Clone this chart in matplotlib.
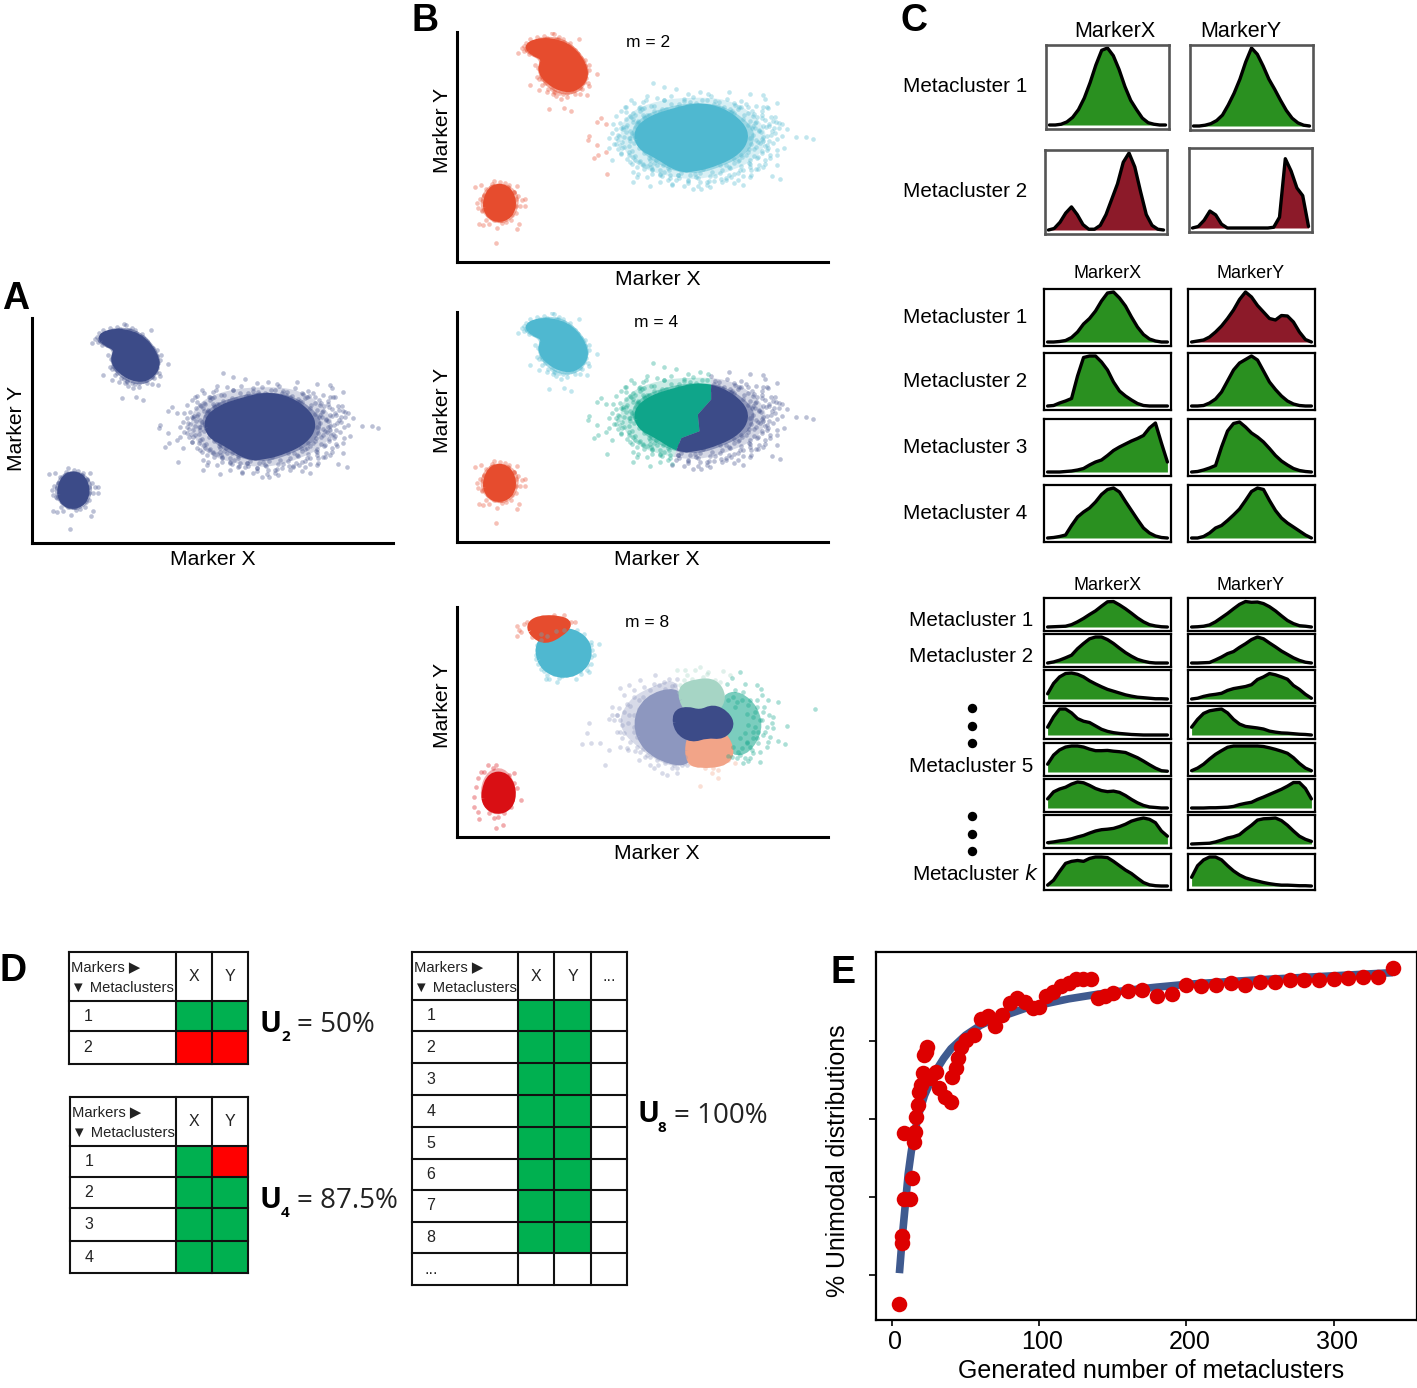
#!/usr/bin/env python3
"""Metacluster figure: scatter panels, density panels, tables and the saturation curve."""

import matplotlib
matplotlib.use('Agg')
import matplotlib.pyplot as plt
from matplotlib.patches import PathPatch, Polygon, Rectangle
from matplotlib.path import Path
from matplotlib.transforms import ScaledTranslation
import numpy as np

W, H = 1417, 1388
plt.rcParams['font.family'] = ['Liberation Sans', 'DejaVu Sans']

# ---- scatter data, in marker units ----
BIG_X = [668,700,735,770,805,830,890,950,990,995,1030,990,1000,1025,1045,1060,1085,1115,1135,1045,1050,1030,1030,1015,1040,930,825,808,785,725,690,660,610,620,533,495,508,548,530,480,478,505,515,505,532,560,585,605,650,640,
         575,590,612,628,648,662,680,700,722,745,760,785,812,838,862,885,908,925,945,968,985,1005,1018,578,598,615,640,665,690,718,742,770,795,825,850,880,905,930,955,975,995,1010,560,572,590,606,625,645,
         965,978,990,1002,950,930,975,960,985,1008,940,915,895,870,845,820,795,768,745,720,695,670,650,630,610,590,575,600,622,640,665,690,715,740,765,790,815,840,865,890,915,940,962,980,
         600,620,640,660,680,1000,985,965,945,920,900,875,850,825,800,775,750,725,700,675,655,635,615,598,580,565,552,540,560,575,695,735,770,805,845,880,915,955,990,
         610,625,650,1012,1022,1035,970,952,725,760,800,835,870,905]
BIG_Y = [280,290,297,310,305,312,305,312,315,325,337,350,350,378,398,415,438,438,443,435,468,490,518,552,560,578,578,590,590,578,570,582,570,555,545,500,490,505,480,435,445,460,380,393,400,375,350,330,318,335,
         360,348,338,352,330,345,322,330,318,340,325,320,330,318,335,325,342,332,350,345,372,352,390,470,490,505,520,535,548,558,548,565,555,570,552,562,545,552,535,530,515,498,440,462,408,425,392,380,
         395,420,450,475,515,535,495,375,362,405,340,355,365,352,340,345,338,345,352,340,355,362,372,350,385,365,410,510,525,515,530,545,535,550,535,545,530,540,520,525,508,490,472,455,
         375,395,412,505,520,462,442,410,368,350,362,348,358,330,342,335,352,362,368,378,398,355,372,440,415,430,400,470,458,485,552,562,572,570,565,558,562,548,525,
         540,545,555,430,412,395,530,555,575,580,582,585,570,572]
BIG_EXTRA = [(642,352),(671,346),(707,356),(739,349),(776,342),(817,351),(857,346),(894,356),(926,349),(957,361),
             (611,368),(629,361),(656,372),(688,364),(906,367),(934,374),(963,369),(986,381),
             (588,384),(604,377),(623,389),(643,379),(667,386),(931,383),(951,391),(973,378),(996,388),(1013,379),
             (571,396),(593,403),(611,392),(629,401),(648,394),(946,401),(969,392),(989,406),(1006,398),(1028,393),
             (561,413),(581,408),(601,419),(618,407),(636,416),(957,411),(979,418),(997,409),(1016,420),(1036,412),
             (548,426),(569,433),(588,422),(607,431),(623,427),(961,430),(983,423),(1001,434),(1023,426),
             (541,441),(566,447),(584,437),(601,450),(615,441),(968,446),(990,438),(1008,449),(1031,442),
             (553,457),(579,451),(597,463),(612,454),(631,462),(955,459),(976,452),(994,464),(1019,456),
             (566,472),(584,466),(606,478),(626,470),(645,476),(949,473),(968,466),(987,478),(1005,469),(1031,474),
             (576,487),(599,481),(617,492),(641,484),(661,491),(924,489),(946,482),(964,492),(986,484),(1009,491),
             (591,503),(611,496),(631,507),(656,499),(677,505),(701,498),(904,503),(929,497),(951,506),(973,499),(996,505),
             (606,517),(627,511),(651,521),(671,513),(696,519),(719,511),(881,518),(906,512),(924,521),(949,514),(977,519),
             (641,531),(663,526),(689,535),(713,528),(871,534),(894,527),(921,533),(951,526),
             (666,546),(701,541),(719,549),(751,543),(776,550),(806,544),(834,551),(863,542),(889,549),(916,543),
             (713,562),(744,558),(771,564),(799,557),(831,566),(866,559),(896,556),
             (700,330),(760,332),(850,332),(905,338),(640,372),(960,405),(600,440),(950,440),(660,515),(920,505)]

TOP_X = [275,285,296,310,330,350,372,378,395,420,435,453,470,482,480,505,478,475,455,480,430,408,365,385,375,358,335,310,330,352,400,418,440,462,472,455,325,340,390,425,448,335,345,362,380,405,450,470,310,300]
TOP_Y = [190,176,160,150,145,140,132,135,145,170,178,150,210,225,240,252,280,315,312,288,360,352,355,318,310,305,300,285,262,270,325,320,310,295,265,240,225,205,150,162,195,268,285,295,305,312,268,250,165,180]
TOP_EXTRA = [(292,170),(305,182),(318,162),(338,150),(360,146),(384,150),(408,158),(430,172),(445,190),(458,205),(470,228),(474,250),(468,275),(455,292),(438,300),(418,308),(395,308),(372,296),(352,280),(340,258),(332,236),(342,218),(352,203),(322,194),(306,195),(293,186),(404,150),(440,182),(462,218),(430,302),(382,304),(345,268)]

SMALL_X = [210,148,165,205,235,270,295,280,295,278,272,213,190,160,172,155,162,180,198,222,248,262,275,190,182,170,158,255,240,228,205,190,268,285,245,268,175,195,225,258]
SMALL_Y = [748,583,578,565,572,580,620,640,640,692,708,705,692,692,695,630,618,590,575,570,578,600,610,660,680,655,645,680,688,690,680,600,660,622,590,640,610,585,682,665]
SMALL_EXTRA = [(172,625),(178,642),(186,665),(200,672),(218,680),(236,672),(252,660),(262,640),(268,620),(262,598),(245,585),(225,582),(205,582),(188,595),(176,608),(168,650),(240,650),(200,615),(232,605),(250,635),(215,650),(195,640)]

CORE_POLY = [(620,420),(660,385),(720,365),(800,345),(870,360),(925,400),(940,440),(915,480),(860,510),(790,530),(740,530),(680,490),(630,465)]
INNER_POLY = [(598,425),(630,380),(700,350),(790,335),(875,345),(945,390),(970,435),(945,485),(880,520),(795,548),(715,535),(640,490)]
MID_POLY = [(565,430),(595,365),(680,330),(780,320),(885,325),(965,370),(1005,430),(980,495),(905,535),(800,565),(695,550),(605,515)]
TOP_CORE = [(300,170),(340,155),(390,160),(430,180),(465,225),(470,265),(440,295),(400,295),(360,270),(340,240),(355,205),(320,190)]
TOP_MID = [(285,180),(320,150),(375,140),(430,160),(480,220),(480,270),(450,310),(400,315),(350,285),(328,240),(340,212),(310,198)]
SMALL_CORE = [(180,625),(200,585),(240,585),(262,625),(250,668),(212,680),(185,660)]
SMALL_MID = [(160,625),(185,580),(225,570),(268,590),(280,630),(260,680),(215,695),(175,670)]

# boundary between the two big-cluster groups for m = 4, and outliers of m = 2
SPLIT_Y = [300,337,386,430,479,499,548,600]
SPLIT_X = [838,838,838,799,804,751,731,720]
M2_OUTLIER_X = 535

# ---- m = 8 points ----
LAV_X = [485,505,510,540,565,555,500,600,625,660,705,745,770,765,575,590,610,640,670,700,735,620,605,650,680,710,760,795,800,755,725,700,690,655,622,605,590,580,640,625,690,720,745,770,660,755,740,790]
LAV_Y = [432,368,428,430,450,495,398,262,255,240,225,235,235,255,320,345,285,270,260,250,265,310,375,440,465,480,495,470,495,505,520,505,495,480,450,415,395,360,380,345,300,280,275,520,455,470,525,490]
LAV_EXTRA = [(595,322),(612,335),(628,318),(640,345),(655,325),(600,358),(622,368),(640,395),(612,398),(630,425),(650,412),(668,448),(645,452),(690,470),(668,290),(690,268),(715,255),(655,300),(640,290),(730,245),(755,258),(712,495),(735,488),(770,505),(785,495),(675,470),(590,345),(575,345),(565,355),(598,440),(620,445),(598,395)]
MINT_X = [770,795,825,860,910,790,815,850,885,780,900,840,865,800,930,775]
MINT_Y = [210,208,210,222,212,240,235,230,240,255,245,200,215,225,225,275]
TEAL_X = [1185,1103,1075,1095,1075,1020,975,1022,1010,1060,1040,1050,990,1000,970,945,920,960,990,1025,935,975,1010,1030,1045,980,950,1005,1025,1040,960,925,1000,975,940,1060,1015,990,955,1030,970,1000,940,980,1015]
TEAL_Y = [327,377,305,432,422,487,475,265,255,350,380,410,440,460,490,270,250,215,300,285,232,250,320,335,300,340,305,380,360,440,465,468,415,400,440,385,430,475,455,405,275,350,290,425,395]
TEAL_EXTRA = [(1010,300),(985,315),(965,300),(1032,320),(1048,345),(1020,360),(1055,368),(1035,395),(1010,415),(1045,425),(1020,455),(995,450),(965,445),(950,475),(985,482),(935,470),(1005,335),(985,375),(1000,395),(960,415),(980,430),(945,320),(925,300)]
SALMON_X = [840,810,835,855,875,895,945,880,850,905,925,820,870,895]
SALMON_Y = [557,490,495,505,520,535,490,505,480,490,480,470,490,510]
CYAN_X = [535,510,510,500,375,385,410,440,465,480,505,515,345,350,380,415,450,490,510,470,360,430,495,520]
CYAN_Y = [132,125,190,210,235,235,245,225,235,220,215,150,175,150,225,232,95,100,135,90,100,88,185,165]
CYAN_EXTRA = [(350,135),(362,120),(380,108),(405,92),(460,96),(488,118),(498,142),(505,165),(498,195),(478,212),(455,222),(425,228),(400,222),(370,212),(352,190),(345,165),(510,170),(362,205)]
ORANGE_X = [290,300,290,310,320,345,365,400,430,450,462,335,295]
ORANGE_Y = [78,95,108,70,65,55,50,45,45,65,65,110,90]
RED_X = [225,245,175,160,172,300,290,280,200,215,190,170,165,280,265,270,250,230,205,180,225,195,215,255,275,240,160,220]
RED_Y = [685,675,657,620,635,600,565,520,495,505,515,535,560,550,525,620,640,652,640,515,495,605,610,600,600,630,590,655]

M8_TOP_CORE = [(325,75),(355,55),(415,55),(448,70),(420,100),(375,122),(340,105)]
M8_CYAN = [(350,150),(370,110),(430,88),(488,110),(508,155),(488,205),(430,228),(370,205)]
M8_SMALL = [(190,575),(210,525),(255,525),(278,570),(268,620),(228,635),(195,615)]
M8_SMALL_MID = [(175,570),(200,510),(250,500),(285,550),(285,610),(240,650),(190,630)]
M8_LAV = [(645,370),(678,295),(770,268),(782,320),(772,385),(808,415),(808,485),(750,485),(675,445)]
M8_LAV_MID = [(590,380),(620,300),(700,255),(772,235),(780,320),(770,385),(805,415),(805,495),(745,500),(660,450)]
M8_MINT = [(778,265),(830,245),(885,245),(910,290),(888,330),(840,340),(798,330)]
M8_NAVY = [(765,340),(800,328),(840,340),(880,322),(918,342),(935,375),(908,408),(860,403),(815,418),(772,392)]
M8_SALMON = [(805,420),(830,400),(892,400),(918,412),(935,462),(908,490),(840,495),(806,484)]
M8_TEAL = [(893,320),(918,275),(965,275),(1015,320),(1030,390),(990,460),(935,470),(908,408),(932,375)]

# ---- density curves, heights at 0, 5, ... 100 % of the marker range ----
PROFILE_X = [0,5,10,15,20,25,30,35,40,45,50,55,60,65,70,75,80,85,90,95,100]
C1_X1 = [0,0,.01,.04,.1,.2,.35,.55,.78,.97,1,.9,.72,.5,.32,.2,.09,.03,.01,0,0]
C1_Y1 = [0,0,.01,.03,.07,.14,.27,.42,.6,.82,1,.92,.77,.6,.47,.33,.2,.1,.04,.01,0]
C1_X2 = [0,.02,.1,.22,.3,.2,.07,.01,.01,.06,.2,.4,.6,.88,1,.82,.5,.2,.06,.01,0]
C1_Y2 = [0,.02,.1,.22,.17,.05,0,0,0,0,0,0,0,0,.01,.14,.9,.74,.52,.42,.02]
C2_X1 = [0,0,.01,.03,.09,.2,.36,.47,.62,.82,.98,1,.88,.72,.5,.3,.15,.06,.02,0,0]
C2_Y1 = [0,.02,.04,.1,.2,.32,.47,.64,.85,1,.9,.73,.6,.47,.44,.53,.52,.4,.2,.05,0]
C2_X2 = [0,.01,.06,.1,.15,.6,.97,1,1,.88,.72,.48,.3,.2,.12,.05,.01,0,0,0,0]
C2_Y2 = [0,0,.01,.06,.14,.28,.5,.72,.86,.93,1,.92,.7,.48,.33,.2,.1,.04,.01,0,0]
C2_X3 = [0,0,0,.01,.02,.04,.07,.14,.2,.24,.33,.43,.5,.56,.62,.67,.73,.88,.98,.58,.2]
C2_Y3 = [0,.01,.04,.08,.13,.5,.82,.97,1,.9,.78,.7,.6,.47,.33,.22,.14,.07,.03,.01,0]
C2_X4 = [0,.01,.03,.06,.25,.42,.52,.6,.72,.87,.97,1,.92,.73,.55,.37,.2,.1,.04,.01,0]
C2_Y4 = [0,0,.03,.1,.2,.25,.35,.46,.58,.75,.93,1,.97,.75,.55,.4,.3,.22,.14,.06,0]
C3_X1 = [0,.01,.02,.03,.09,.2,.33,.48,.62,.8,.97,.98,.85,.7,.53,.35,.2,.09,.04,.01,0]
C3_Y1 = [0,.01,.03,.08,.2,.36,.52,.7,.87,.98,.95,.96,.9,.78,.62,.43,.25,.13,.05,.03,0]
C3_X2 = [0,.04,.11,.2,.3,.55,.75,.93,1,1,.9,.75,.57,.4,.26,.14,.07,.02,0,0,0]
C3_Y2 = [0,0,.01,.02,.12,.23,.36,.44,.6,.74,.9,1,.93,.77,.62,.46,.33,.2,.1,.03,0]
C3_X3 = [.2,.6,.85,.98,1,.95,.85,.7,.58,.47,.37,.3,.23,.16,.11,.07,.05,.03,.01,.01,0]
C3_Y3 = [0,.03,.1,.15,.18,.22,.33,.4,.44,.48,.55,.75,.85,.98,.93,.85,.76,.52,.37,.18,.03]
C3_X4 = [.3,.7,1,1,.85,.63,.53,.48,.35,.22,.14,.09,.06,.04,.02,.01,0,0,0,0,0]
C3_Y4 = [.3,.6,.83,.93,.97,1,.85,.6,.42,.33,.3,.27,.23,.15,.11,.08,.07,.05,.03,.02,0]
C3_X5 = [.3,.65,.85,.96,1,1,.96,.88,.82,.82,.83,.8,.78,.75,.65,.55,.42,.28,.15,.05,.03]
C3_Y5 = [.05,.15,.3,.5,.68,.82,.95,1,1,1,1,1,.98,.93,.87,.8,.72,.55,.33,.15,.05]
C3_X6 = [.35,.62,.73,.8,.92,1,.97,.87,.75,.67,.63,.65,.6,.48,.33,.2,.1,.04,.02,0,0]
C3_Y6 = [0,0,0,.01,.01,.02,.03,.06,.13,.18,.22,.33,.42,.52,.62,.72,.84,.98,.98,.75,.35]
C3_X7 = [.05,.08,.12,.15,.2,.27,.33,.42,.5,.55,.57,.6,.67,.76,.88,.95,1,.95,.82,.5,.3]
C3_Y7 = [0,.01,.02,.03,.08,.15,.23,.28,.36,.55,.72,.92,.97,.98,1,.9,.72,.5,.3,.18,.1]
C3_X8 = [.03,.2,.5,.78,.85,.88,.85,.95,1,1,.98,.85,.7,.55,.43,.27,.12,.04,.01,0,0]
C3_Y8 = [.3,.7,.9,1,1,.9,.7,.52,.38,.28,.22,.17,.12,.08,.05,.03,.03,.02,.01,.01,0]

# ---- panel E ----
E_X = [5,6.5,7,8,12,13.7,8,15,15.5,16,17.5,18.5,20,21,22,23,24,26,29.7,32,36,40,41,43.4,45,47,50,55.5,60.5,65,70,75,80,85,90,95.5,100,104.5,109.5,115,120,125,130,135,140,144.7,150,160,170,180,190,200,210,220,230,240,250,260,270,280,290,300,310,320,330,340]
E_Y = [12.6,28.3,30,39.5,39.5,44.8,56.5,54,56.8,60.6,63.6,67,68.7,71.7,76.4,77.3,78.5,70.4,72,67.9,65.7,64.4,70.8,73,75.6,78.5,80.3,81.5,85.6,86.5,83.8,86.7,89.7,91,90,88.4,88.8,91.4,92.6,94,94.8,95.8,95.8,95.8,91,91.6,92.2,92.8,93,91.6,92,94.4,94,94.4,94.8,94.4,95,95.2,95.6,95.6,95.6,95.9,96.2,96.5,96.5,98.8]
FIT_X = [5,7,9,11,13,15,18,22,26,30,35,40,50,60,70,80,90,100,120,140,160,180,200,220,250,280,310,340]
FIT_Y = [20.5,30,38,46,51.5,56,61,66,69.5,72.5,75.5,78,81.5,84,85.8,87,88.3,89.2,90.8,92,93,93.8,94.5,95,95.7,96.3,96.9,97.5]
E_XTICKS = [0,100,200,300]
E_YTICKS = [20,40,60,80]

# ---- tables ----
TABLE_U2 = ['gg', 'rr']
TABLE_U4 = ['gr', 'gg', 'gg', 'gg']
TABLE_U8 = ['gg.'] * 8 + ['...']
ROWS_U8 = ['1', '2', '3', '4', '5', '6', '7', '8', '...']

NAVY = '#3c4b88'
ORANGE = '#e64c2e'
CYAN = '#4fb8d0'
TEAL = '#0fa58a'
LAV = '#8d97bf'
MINT = '#a6d5c5'
SALMON = '#f2a488'
RED = '#d90f14'
GREEN = '#2a9020'
MAROON = '#8c1a29'
CELL_COLORS = {'g': '#00b050', 'r': '#ff0000'}

fig = plt.figure(figsize=(W / 100, H / 100), dpi=100, facecolor='white')
bg = fig.add_axes([0, 0, 1, 1])
bg.set_xlim(0, W)
bg.set_ylim(H, 0)
bg.axis('off')


def ax_px(x0, y0, x1, y1):
    """axes from pixel box, y counted from the top"""
    ax = fig.add_axes([x0 / W, 1 - y1 / H, (x1 - x0) / W, (y1 - y0) / H])
    ax.patch.set_alpha(0)
    return ax


def label(x, y, s, size=14.9, **kw):
    kw.setdefault('ha', 'center')
    kw.setdefault('va', 'center')
    # text sits a little high/left of the requested box centre
    if kw.get('rotation'):
        x += 2
    else:
        y += 1
    return bg.text(x, y, s, fontsize=size, **kw)


def scatter_axes(x0, y0, x1, y1, xlim=(96, 1179), ylim=(789, 114)):
    ax = ax_px(x0, y0, x1, y1)
    ax.set_xlim(*xlim)
    ax.set_ylim(*ylim)
    ax.set_xticks([])
    ax.set_yticks([])
    ax.spines['top'].set_visible(False)
    ax.spines['right'].set_visible(False)
    ax.spines['left'].set_linewidth(2.2)
    ax.spines['bottom'].set_linewidth(2.2)
    return ax


def dots(ax, x, y, color, alpha=0.35):
    ax.scatter(x, y, s=11, c=color, alpha=alpha, linewidths=0, zorder=3)


def dots_xy(ax, pairs, color):
    dots(ax, [p[0] for p in pairs], [p[1] for p in pairs], color)


def blob(ax, poly, color, alpha=1.0, z=2, clip=None):
    # rounded outline: quadratic segments through the edge midpoints
    pts = np.array(poly, dtype=float)
    mids = (pts + np.roll(pts, -1, axis=0)) / 2
    verts = [mids[-1]]
    codes = [Path.MOVETO]
    for p, m in zip(pts, mids):
        verts += [p, m]
        codes += [Path.CURVE3, Path.CURVE3]
    # solid shapes get a stroke so they keep their full size after rounding
    edge = color if alpha == 1.0 else 'none'
    patch = PathPatch(Path(verts, codes), fc=color, ec=edge, lw=5, alpha=alpha, zorder=z, joinstyle='round')
    ax.add_patch(patch)
    if clip is not None:
        patch.set_clip_path(Polygon(clip, closed=True, transform=ax.transData))


def density(box, heights, color, edge='black', edge_w=1.6):
    ax = ax_px(*box)
    h = box[3] - box[1]
    span = h - 7
    ax.set_xlim(-3, 103)
    ax.set_ylim(-4 / span, 1 + 3 / span)
    ax.set_xticks([])
    ax.set_yticks([])
    for s in ax.spines.values():
        s.set_linewidth(edge_w)
        s.set_edgecolor(edge)
    ax.fill_between(PROFILE_X, 0, heights, color=color, lw=0)
    ax.plot(PROFILE_X, heights, color='black', lw=2.4, solid_joinstyle='round', solid_capstyle='round')


def table(xs, ys, rows, cells, cols):
    for i, row in enumerate(cells):
        for j, c in enumerate(row):
            if c in CELL_COLORS:
                bg.add_patch(Rectangle((xs[j + 1], ys[i + 1]), xs[j + 2] - xs[j + 1], ys[i + 2] - ys[i + 1],
                                       fc=CELL_COLORS[c], ec='none', zorder=1))
    for x in xs:
        bg.plot([x, x], [ys[0], ys[-1]], color='#111111', lw=1.5, zorder=2, solid_capstyle='projecting')
    for y in ys:
        bg.plot([xs[0], xs[-1]], [y, y], color='#111111', lw=1.5, zorder=2, solid_capstyle='projecting')
    for j, c in enumerate(cols):
        label((xs[j + 1] + xs[j + 2]) / 2, (ys[0] + ys[1]) / 2 - 1, c, size=11.5, color='#222222', zorder=3)
    for i, r in enumerate(rows):
        label(xs[0] + 19, (ys[i + 1] + ys[i + 2]) / 2 - 1, r, size=11.5, color='#222222', zorder=3)
    label(xs[0] + 2, ys[0] + 14, 'Markers \u25b6', size=10.6, ha='left', color='#222222', zorder=3)
    label(xs[0] + 2, ys[0] + 35, '\u25bc Metaclusters', size=10.6, ha='left', color='#222222', zorder=3)


def u_label(x, y, sub, rest):
    label(x, y, 'U', size=21, ha='left', fontweight='bold', family=['Open Sans', 'DejaVu Sans'])
    label(x + 21, y + 13, sub, size=11, ha='left', fontweight='bold', family=['Open Sans', 'DejaVu Sans'])
    label(x + 37, y + 1, '= ' + rest, size=20, ha='left', family=['Open Sans', 'DejaVu Sans'], color='#222222')


big_x = np.array(BIG_X + [p[0] for p in BIG_EXTRA])
big_y = np.array(BIG_Y + [p[1] for p in BIG_EXTRA])


def clusters(ax, big_color, top_color, small_color):
    blob(ax, MID_POLY, big_color, 0.22)
    blob(ax, INNER_POLY, big_color, 0.45)
    blob(ax, CORE_POLY, big_color, z=2.5)
    blob(ax, TOP_MID, top_color, 0.5)
    blob(ax, TOP_CORE, top_color, z=2.5)
    blob(ax, SMALL_MID, small_color, 0.4)
    blob(ax, SMALL_CORE, small_color, z=2.5)
    dots(ax, TOP_X, TOP_Y, top_color)
    dots_xy(ax, TOP_EXTRA, top_color)
    dots(ax, SMALL_X, SMALL_Y, small_color)
    dots_xy(ax, SMALL_EXTRA, small_color)


# ---- panel A ----
ax = scatter_axes(32, 318, 393, 543)
clusters(ax, NAVY, NAVY, NAVY)
dots(ax, big_x, big_y, NAVY)

# ---- panel B, m = 2 ----
ax = scatter_axes(457, 32, 828, 262, ylim=(804, 129))
clusters(ax, CYAN, ORANGE, ORANGE)
out = big_x < M2_OUTLIER_X
dots(ax, big_x[~out], big_y[~out], CYAN)
dots(ax, big_x[out], big_y[out], ORANGE)

# ---- panel B, m = 4 ----
ax = scatter_axes(457, 312, 828, 542, ylim=(804, 129))
split = list(zip(SPLIT_X, SPLIT_Y))
clip_left = [(96, 114), (838, 114)] + split + [(96, 800)]
clip_right = [(1179, 114), (838, 114)] + split + [(1179, 800)]
blob(ax, MID_POLY, TEAL, 0.22, clip=clip_left)
blob(ax, INNER_POLY, TEAL, 0.45, clip=clip_left)
blob(ax, CORE_POLY, TEAL, z=2.5, clip=clip_left)
blob(ax, MID_POLY, NAVY, 0.22, clip=clip_right)
blob(ax, INNER_POLY, NAVY, 0.45, clip=clip_right)
blob(ax, CORE_POLY, NAVY, z=2.5, clip=clip_right)
blob(ax, TOP_MID, CYAN, 0.5)
blob(ax, TOP_CORE, CYAN, z=2.5)
blob(ax, SMALL_MID, ORANGE, 0.4)
blob(ax, SMALL_CORE, ORANGE, z=2.5)
left = big_x < np.interp(big_y, SPLIT_Y, SPLIT_X)
dots(ax, big_x[left], big_y[left], TEAL)
dots(ax, big_x[~left], big_y[~left], NAVY)
dots(ax, TOP_X, TOP_Y, CYAN)
dots_xy(ax, TOP_EXTRA, CYAN)
dots(ax, SMALL_X, SMALL_Y, ORANGE)
dots_xy(ax, SMALL_EXTRA, ORANGE)

# ---- panel B, m = 8 ----
ax = scatter_axes(457, 607, 828, 837, xlim=(108, 1225), ylim=(711, 20))
blob(ax, M8_LAV_MID, LAV, 0.35)
blob(ax, M8_LAV, LAV, z=2.2)
blob(ax, M8_TEAL, TEAL, 0.55)
blob(ax, M8_MINT, MINT, z=2.3)
blob(ax, M8_SALMON, SALMON, z=2.3)
blob(ax, M8_NAVY, NAVY, z=2.5)
blob(ax, M8_CYAN, CYAN, z=2.5)
blob(ax, M8_TOP_CORE, ORANGE, z=2.6)
blob(ax, M8_SMALL_MID, RED, 0.35)
blob(ax, M8_SMALL, RED, z=2.5)
dots(ax, LAV_X, LAV_Y, LAV)
dots_xy(ax, LAV_EXTRA, LAV)
dots(ax, MINT_X, MINT_Y, MINT)
dots(ax, TEAL_X, TEAL_Y, TEAL)
dots_xy(ax, TEAL_EXTRA, TEAL)
dots(ax, SALMON_X, SALMON_Y, SALMON)
dots(ax, CYAN_X, CYAN_Y, CYAN)
dots_xy(ax, CYAN_EXTRA, CYAN)
dots(ax, ORANGE_X, ORANGE_Y, ORANGE)
dots(ax, RED_X, RED_Y, RED)

label(14, 428, 'Marker Y', size=15.2, rotation=90)
label(213, 558, 'Marker X', size=15.2)
for y, x_lab in [(130, (658, 278)), (410, (657, 558)), (705, (657, 852))]:
    label(440, y, 'Marker Y', size=15.2, rotation=90)
    label(x_lab[0], x_lab[1], 'Marker X', size=15.2)
label(648, 41, 'm = 2', size=12.5)
label(656, 321, 'm = 4', size=12.5)
label(647, 621, 'm = 8', size=12.5)

# ---- panel C ----
GREY = '#555555'
density((1046, 45, 1169, 129), C1_X1, GREEN, GREY, 1.9)
density((1190, 45, 1313, 130), C1_Y1, GREEN, GREY, 1.9)
density((1045, 150, 1167, 234), C1_X2, MAROON, GREY, 1.9)
density((1189, 148, 1312, 232), C1_Y2, MAROON, GREY, 1.9)

for (y0, y1), hx, hy, cy in [((289, 346), C2_X1, C2_Y1, MAROON), ((353, 410), C2_X2, C2_Y2, GREEN),
                             ((419, 476), C2_X3, C2_Y3, GREEN), ((485, 542), C2_X4, C2_Y4, GREEN)]:
    density((1044, y0, 1171, y1), hx, GREEN)
    density((1188, y0, 1315, y1), hy, cy)

C3_ROWS = [(598, 631), (634, 667), (670, 703), (706, 739), (743, 776), (779, 812), (815, 848), (854, 890)]
C3_XS = [C3_X1, C3_X2, C3_X3, C3_X4, C3_X5, C3_X6, C3_X7, C3_X8]
C3_YS = [C3_Y1, C3_Y2, C3_Y3, C3_Y4, C3_Y5, C3_Y6, C3_Y7, C3_Y8]
for (y0, y1), hx, hy in zip(C3_ROWS, C3_XS, C3_YS):
    density((1044, y0, 1171, y1), hx, GREEN)
    density((1188, y0, 1315, y1), hy, GREEN)

label(1115, 30, 'MarkerX', size=15.5)
label(1241, 30, 'MarkerY', size=15.5)
for cx, s in [(1108, 'MarkerX'), (1251, 'MarkerY')]:
    label(cx, 272, s, size=13)
    label(cx, 584, s, size=13)
for y, s in [(85, 'Metacluster 1'), (190, 'Metacluster 2'), (316, 'Metacluster 1'), (380, 'Metacluster 2'),
             (446, 'Metacluster 3'), (512, 'Metacluster 4')]:
    label(903, y, s, ha='left')
for y, s in [(619, 'Metacluster 1'), (655, 'Metacluster 2'), (765, 'Metacluster 5')]:
    label(909, y, s, ha='left')
label(912, 873, 'Metacluster $\\mathit{k}$', ha='left')
bg.scatter([972, 972, 972, 972, 972, 972], [708, 726, 743, 816, 834, 851], s=46, c='black', linewidths=0)

# ---- panel D ----
table([69, 176, 212, 248], [952, 1001, 1031, 1064], ['1', '2'], TABLE_U2, ['X', 'Y'])
table([70, 176, 212, 248], [1097, 1146, 1177, 1208, 1241, 1273], ['1', '2', '3', '4'], TABLE_U4, ['X', 'Y'])
table([412, 518, 554, 591, 627], [952, 1000, 1031, 1063, 1095, 1127, 1159, 1190, 1222, 1253, 1285],
      ROWS_U8, TABLE_U8, ['X', 'Y', '...'])
u_label(260, 1023, '2', '50%')
u_label(260, 1199, '4', '87.5%')
u_label(637, 1114, '8', '100%')

# ---- panel E ----
ax = ax_px(876, 952, 1417, 1320)
ax.set_xlim(-10.9, 356.6)
ax.set_ylim(8.5, 102.8)
ax.plot(FIT_X, FIT_Y, color='#3f5a8f', lw=5.5, solid_capstyle='butt', zorder=2)
ax.scatter(E_X, E_Y, s=125, c='#dd0000', linewidths=0, zorder=3)
ax.set_xticks(E_XTICKS)
ax.set_yticks(E_YTICKS)
ax.set_yticklabels([])
ax.tick_params(axis='x', labelsize=18, length=4, width=1.2, pad=3)
ax.tick_params(axis='y', length=5, width=1.2)
shift = ScaledTranslation(3 / 100, 0, fig.dpi_scale_trans)
for t in ax.get_xticklabels():
    t.set_transform(t.get_transform() + shift)
for s in ax.spines.values():
    s.set_linewidth(1.6)
label(1151, 1370, 'Generated number of metaclusters', size=18)
label(836, 1161, '% Unimodal distributions', size=17.9, rotation=90)

# ---- panel letters ----
for x, y, s in [(16, 298, 'A'), (425, 20, 'B'), (914, 20, 'C'), (13, 970, 'D'), (843, 972, 'E')]:
    label(x, y, s, size=27, fontweight='bold')

fig.savefig('out.png', dpi=100, facecolor='white')
